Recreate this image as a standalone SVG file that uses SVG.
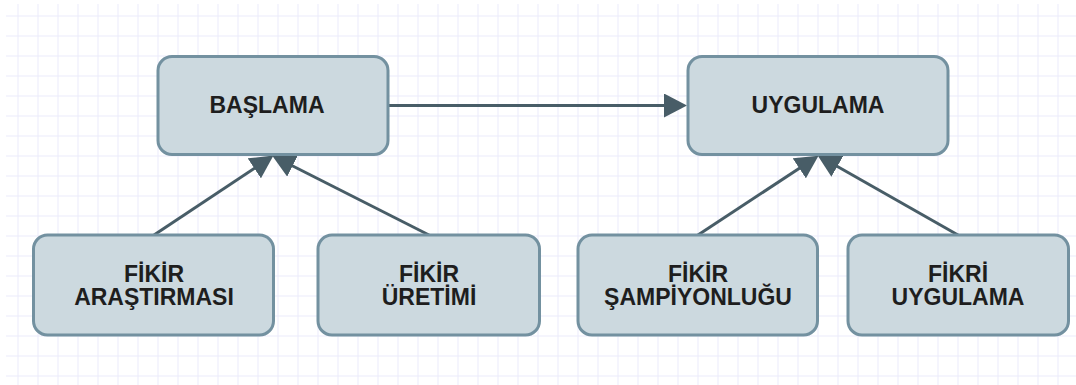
<svg xmlns="http://www.w3.org/2000/svg" width="1076" height="385" viewBox="0 0 1076 385">
  <defs>
    <pattern id="grid" x="-1.5" y="-3.5" width="20" height="20" patternUnits="userSpaceOnUse">
      <path d="M20,0 V20 M0,20 H20" fill="none" stroke="#ebebfb" stroke-width="2"/>
    </pattern>
    <marker id="arr" viewBox="0 0 23 24" refX="12" refY="12" markerWidth="23" markerHeight="24" markerUnits="userSpaceOnUse" orient="auto">
      <path d="M0,0 L23,12 L0,24 Z" fill="#485d67"/>
    </marker>
  </defs>
  <style>
    .node rect { fill: #ccd9df; stroke: #7391a0; stroke-width: 3; }
    .node text { font-family: "Liberation Sans", Arial, sans-serif; font-weight: bold; font-size: 23px; fill: #1e1e1e; text-anchor: middle; }
    .edge { stroke: #485d67; stroke-width: 3; fill: none; marker-end: url(#arr); }
  </style>
  <rect x="0" y="0" width="1076" height="385" fill="#ffffff"/>
  <rect x="6" y="4" width="1070" height="381" fill="url(#grid)"/>

  <g id="connectors">
    <line class="edge" x1="389" y1="105.5" x2="676" y2="105.5"/>
    <line class="edge" x1="154" y1="235" x2="264.3" y2="161.7"/>
    <line class="edge" x1="429" y1="235" x2="281.9" y2="160.5"/>
    <line class="edge" x1="698" y1="235" x2="809.3" y2="161.7"/>
    <line class="edge" x1="958" y1="235" x2="826.9" y2="160.5"/>
  </g>

  <g id="n-baslama" class="node">
    <rect x="158" y="56.5" width="230" height="98" rx="14"/>
    <text x="267" y="113">BAŞLAMA</text>
  </g>
  <g id="n-uygulama" class="node">
    <rect x="688" y="56.5" width="260" height="98" rx="14"/>
    <text x="818" y="113">UYGULAMA</text>
  </g>
  <g id="n-arastirma" class="node">
    <rect x="33.5" y="235" width="240" height="100" rx="14"/>
    <text x="154" y="281.5">FİKİR</text>
    <text x="154" y="305">ARAŞTIRMASI</text>
  </g>
  <g id="n-uretim" class="node">
    <rect x="318" y="235" width="221.5" height="100" rx="14"/>
    <text x="429" y="281.5">FİKİR</text>
    <text x="429" y="305">ÜRETİMİ</text>
  </g>
  <g id="n-sampiyonluk" class="node">
    <rect x="578" y="235" width="239.5" height="100" rx="14"/>
    <text x="698" y="281.5">FİKİR</text>
    <text x="698" y="305">ŞAMPİYONLUĞU</text>
  </g>
  <g id="n-fikri-uygulama" class="node">
    <rect x="848" y="235" width="220.5" height="100" rx="14"/>
    <text x="958" y="281.5">FİKRİ</text>
    <text x="958" y="305">UYGULAMA</text>
  </g>
</svg>
